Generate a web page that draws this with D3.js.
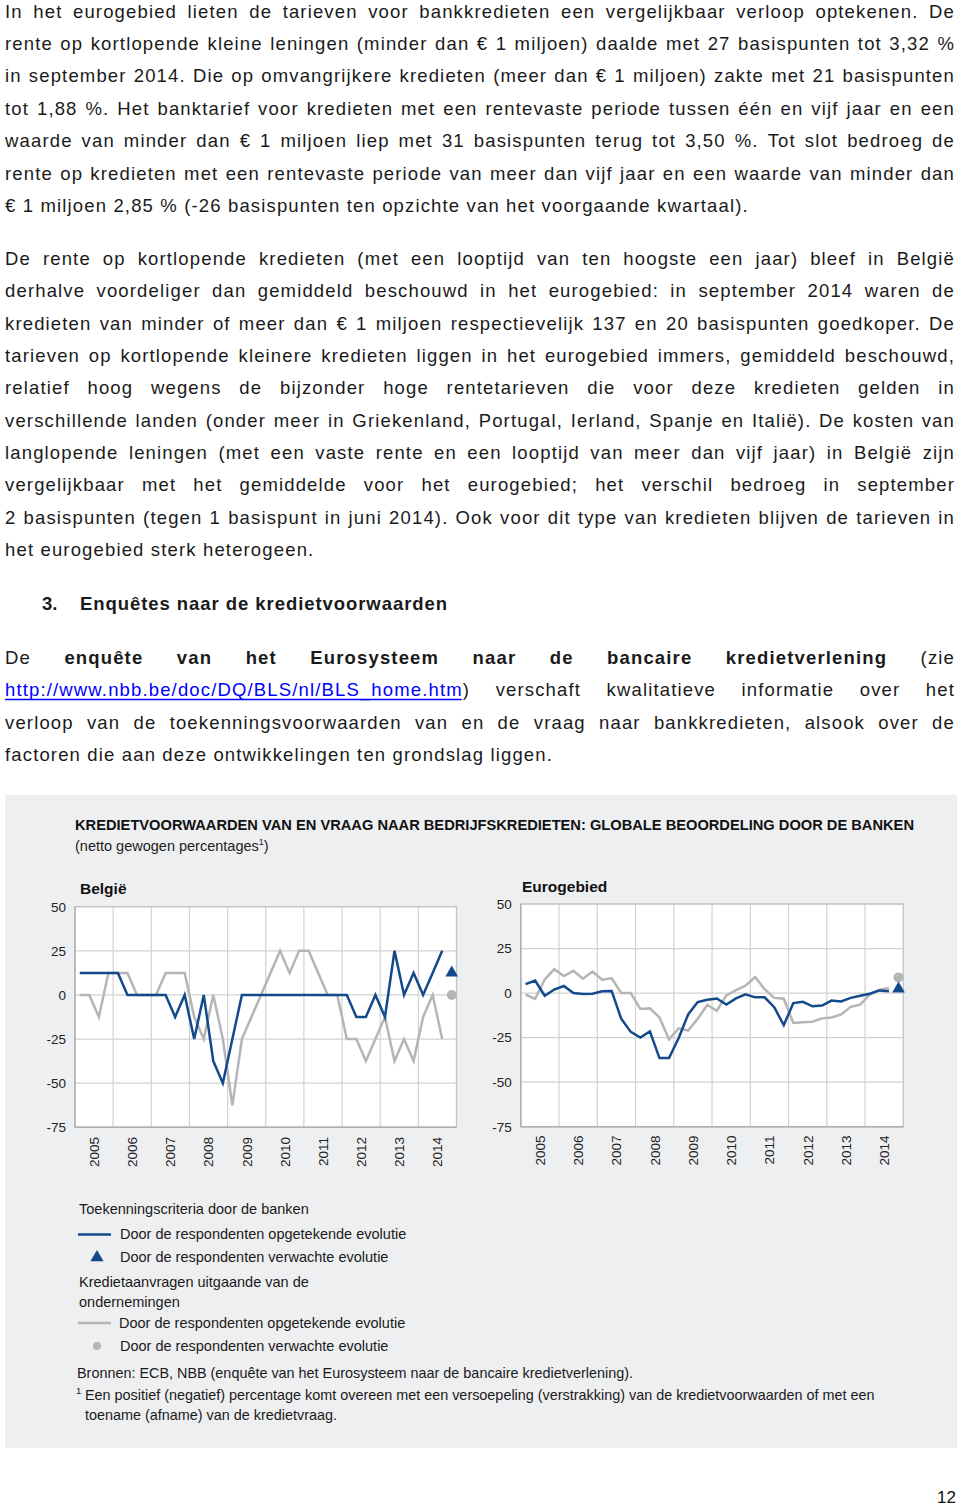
<!DOCTYPE html>
<html><head><meta charset="utf-8">
<script src="https://cdn.jsdelivr.net/npm/d3@7"></script>
<style>body{margin:0;background:#fff}svg{display:block}</style>
</head><body>
<script>
// ---------------- DATA ----------------
const years = ["2005","2006","2007","2008","2009","2010","2011","2012","2013","2014"];
const quarters = [
 "2005Q1","2005Q2","2005Q3","2005Q4","2006Q1","2006Q2","2006Q3","2006Q4",
 "2007Q1","2007Q2","2007Q3","2007Q4","2008Q1","2008Q2","2008Q3","2008Q4",
 "2009Q1","2009Q2","2009Q3","2009Q4","2010Q1","2010Q2","2010Q3","2010Q4",
 "2011Q1","2011Q2","2011Q3","2011Q4","2012Q1","2012Q2","2012Q3","2012Q4",
 "2013Q1","2013Q2","2013Q3","2013Q4","2014Q1","2014Q2","2014Q3"];
const expectedQuarter = "2014Q4";
const yTicks = [50, 25, 0, -25, -50, -75];

// België
const beCriteria = [12.5,12.5,12.5,12.5,12.5,0,0,0,0,0,-12.5,0,-25,0,-37.5,-50,-25,0,0,0,0,0,0,0,0,0,0,0,0,-12.5,-12.5,0,-12.5,25,0,12.5,0,12.5,25];
const beDemand   = [0,0,-12.5,12.5,12.5,12.5,0,0,0,12.5,12.5,12.5,-12.5,-25,0,-25,-62.5,-25,-12.5,0,12.5,25,12.5,25,25,12.5,0,0,-25,-25,-37.5,-25,-12.5,-37.5,-25,-37.5,-12.5,0,-25];
const beCriteriaExpected = 12.5;
const beDemandExpected = 0;

// Eurogebied
const euCriteria = [5,7,-1.5,2,4,0,-0.5,-0.4,1,1.2,-14.4,-21.8,-25,-21.5,-36.5,-36.5,-25.4,-12,-5,-3.7,-3,-6.4,-3,-0.7,-2.4,-2.4,-7.9,-18,-5.6,-4.9,-7.4,-7,-4.2,-4.7,-2.7,-1.5,-0.4,1.5,1];
const euDemand   = [-0.8,-3.2,7.6,13.4,9.6,12.5,8.1,12.1,7.5,8.3,0.1,0,-8.9,-8.6,-13.7,-26,-19.8,-21,-14.4,-6.7,-9.9,-1.3,1.7,4.2,9,2.2,-2.7,-3.2,-16.8,-16.4,-16.1,-14.2,-13.7,-12,-7.7,-6.5,-0.8,1.9,2.7];
const euCriteriaExpected = 2.4;
const euDemandExpected = 8.8;

// ---------------- TEXT ----------------
const para1 = [
 "In het eurogebied lieten de tarieven voor bankkredieten een vergelijkbaar verloop optekenen. De",
 "rente op kortlopende kleine leningen (minder dan € 1 miljoen) daalde met 27 basispunten tot 3,32 %",
 "in september 2014. Die op omvangrijkere kredieten (meer dan € 1 miljoen) zakte met 21 basispunten",
 "tot 1,88 %. Het banktarief voor kredieten met een rentevaste periode tussen één en vijf jaar en een",
 "waarde van minder dan € 1 miljoen liep met 31 basispunten terug tot 3,50 %. Tot slot bedroeg de",
 "rente op kredieten met een rentevaste periode van meer dan vijf jaar en een waarde van minder dan",
 "€ 1 miljoen 2,85 % (-26 basispunten ten opzichte van het voorgaande kwartaal)."];
const para2 = [
 "De rente op kortlopende kredieten (met een looptijd van ten hoogste een jaar) bleef in België",
 "derhalve voordeliger dan gemiddeld beschouwd in het eurogebied: in september 2014 waren de",
 "kredieten van minder of meer dan € 1 miljoen respectievelijk 137 en 20 basispunten goedkoper. De",
 "tarieven op kortlopende kleinere kredieten liggen in het eurogebied immers, gemiddeld beschouwd,",
 "relatief hoog wegens de bijzonder hoge rentetarieven die voor deze kredieten gelden in",
 "verschillende landen (onder meer in Griekenland, Portugal, Ierland, Spanje en Italië). De kosten van",
 "langlopende leningen (met een vaste rente en een looptijd van meer dan vijf jaar) in België zijn",
 "vergelijkbaar met het gemiddelde voor het eurogebied; het verschil bedroeg in september",
 "2 basispunten (tegen 1 basispunt in juni 2014). Ook voor dit type van kredieten blijven de tarieven in",
 "het eurogebied sterk heterogeen."];
const para3 = [
 "De *enquête* *van* *het* *Eurosysteem* *naar* *de* *bancaire* *kredietverlening* (zie",
 "[http://www.nbb.be/doc/DQ/BLS/nl/BLS_home.htm]) verschaft kwalitatieve informatie over het",
 "verloop van de toekenningsvoorwaarden van en de vraag naar bankkredieten, alsook over de",
 "factoren die aan deze ontwikkelingen ten grondslag liggen."];
const headingNum = "3.";
const headingText = "Enquêtes naar de kredietvoorwaarden";
const chartTitle = "KREDIETVOORWAARDEN VAN EN VRAAG NAAR BEDRIJFSKREDIETEN: GLOBALE BEOORDELING DOOR DE BANKEN";
const chartSubtitle = ["(netto gewogen percentages", "1", ")"];
const legendGroup1 = "Toekenningscriteria door de banken";
const legendGroup2 = ["Kredietaanvragen uitgaande van de", "ondernemingen"];
const legendObserved = "Door de respondenten opgetekende evolutie";
const legendExpected = "Door de respondenten verwachte evolutie";
const sourceText = "Bronnen: ECB, NBB (enquête van het Eurosysteem naar de bancaire kredietverlening).";
const footnote = ["Een positief (negatief) percentage komt overeen met een versoepeling (verstrakking) van de kredietvoorwaarden of met een",
                  "toename (afname) van de kredietvraag."];
const pageNumber = "12";

// ---------------- DRAW ----------------
const W = 960, H = 1508;
const FONT = "'Liberation Sans', Arial, Helvetica, sans-serif";
const BLUE = "#124a8b", GREY = "#b5b5b5", INK = "#1a1a1a";

const svg = d3.select("body").append("svg").attr("width", W).attr("height", H)
  .attr("font-family", FONT);
svg.append("rect").attr("width", W).attr("height", H).attr("fill", "#fff");

function parsePieces(str) {
  const out = [];
  const re = /(\*[^*]+\*|\[[^\]]+\]|[^*\[]+)/g;
  let m;
  while ((m = re.exec(str)) !== null) {
    const s = m[0];
    if (s[0] === "*") out.push({text: s.slice(1, -1), bold: true});
    else if (s[0] === "[") out.push({text: s.slice(1, -1), link: true});
    else out.push({text: s});
  }
  return out;
}

const BODY = {size: 18.5, ls: 1.15};
function drawParagraph(lines, x0, y0, pitch, width) {
  lines.forEach((str, i) => {
    const y = y0 + i * pitch;
    const justify = i < lines.length - 1;
    const g = svg.append("g");
    const tokens = justify ? str.split(" ") : [str];
    const items = tokens.map(tok => {
      const t = g.append("text").attr("y", y).attr("font-size", BODY.size)
        .style("letter-spacing", BODY.ls + "px").attr("fill", INK);
      const pieces = parsePieces(tok).map(p => {
        const ts = t.append("tspan").text(p.text);
        if (p.bold) ts.attr("font-weight", "bold");
        if (p.link) ts.attr("fill", "#0000ff");
        return {p, ts};
      });
      return {t, pieces, w: t.node().getComputedTextLength()};
    });
    const total = d3.sum(items, d => d.w);
    const gap = items.length > 1 ? (width - total) / (items.length - 1) : 0;
    let x = x0;
    items.forEach(it => {
      it.t.attr("x", x);
      let off = 0;
      it.pieces.forEach(({p, ts}) => {
        const pw = ts.node().getComputedTextLength();
        if (p.link) {
          g.append("line").attr("x1", x + off).attr("x2", x + off + pw - BODY.ls)
            .attr("y1", y + 3.2).attr("y2", y + 3.2)
            .attr("stroke", "#0000ff").attr("stroke-width", 1.3);
        }
        off += pw;
      });
      x += it.w + gap;
    });
  });
}

drawParagraph(para1, 5, 17.5, 32.4, 950);
drawParagraph(para2, 5, 265, 32.35, 950);

svg.append("text").attr("x", 42).attr("y", 610).attr("font-size", 18.5).attr("font-weight", "bold")
  .attr("fill", INK).text(headingNum);
const hd = svg.append("text").attr("x", 80).attr("y", 610).attr("font-size", 18.5).attr("font-weight", "bold")
  .attr("fill", INK).text(headingText);
const hdw = hd.node().getComputedTextLength();
hd.style("letter-spacing", ((368 - hdw) / headingText.length) + "px");

drawParagraph(para3, 5, 664, 32.3, 950);

// grey box
svg.append("rect").attr("x", 5).attr("y", 795).attr("width", 952).attr("height", 653).attr("fill", "#eeeff1");

// chart title
const ct = svg.append("text").attr("x", 75).attr("y", 830).attr("font-size", 13).attr("font-weight", "bold")
  .attr("fill", "#111").text(chartTitle);
const ctw = ct.node().getComputedTextLength();
ct.attr("font-size", 13 * 840 / ctw);
const st = svg.append("text").attr("x", 75).attr("y", 851).attr("font-size", 14.5).attr("fill", "#222");
st.append("tspan").text(chartSubtitle[0]);
st.append("tspan").attr("font-size", 9).attr("dy", -6).text(chartSubtitle[1]);
st.append("tspan").attr("dy", 6).text(chartSubtitle[2]);

function panel(cfg) {
  const g = svg.append("g");
  const x = d3.scaleBand().domain(years).range([cfg.left, cfg.right]).paddingInner(0).paddingOuter(0);
  const qx = q => x(q.slice(0, 4)) + (+q[5] - 0.5) * x.bandwidth() / 4;
  const y = d3.scaleLinear().domain([-75, 50]).range([cfg.bottom, cfg.top]);

  g.append("rect").attr("x", cfg.left).attr("y", cfg.top)
    .attr("width", cfg.right - cfg.left).attr("height", cfg.bottom - cfg.top).attr("fill", "#fff");
  g.selectAll(".hg").data(yTicks).join("line")
    .attr("x1", cfg.left).attr("x2", cfg.right)
    .attr("y1", d => y(d)).attr("y2", d => y(d))
    .attr("stroke", "#d2d2d2").attr("stroke-width", 1.2);
  g.selectAll(".vg").data(years.slice(1)).join("line")
    .attr("x1", d => x(d)).attr("x2", d => x(d))
    .attr("y1", cfg.top).attr("y2", cfg.bottom)
    .attr("stroke", "#d2d2d2").attr("stroke-width", 1.2);
  g.append("rect").attr("x", cfg.left).attr("y", cfg.top)
    .attr("width", cfg.right - cfg.left).attr("height", cfg.bottom - cfg.top)
    .attr("fill", "none").attr("stroke", "#c4c4c4").attr("stroke-width", 1.3);
  g.append("line").attr("x1", cfg.left).attr("x2", cfg.left).attr("y1", cfg.top).attr("y2", cfg.bottom)
    .attr("stroke", "#b0b0b0").attr("stroke-width", 1.5);
  g.append("line").attr("x1", cfg.left).attr("x2", cfg.right).attr("y1", cfg.bottom).attr("y2", cfg.bottom)
    .attr("stroke", "#b0b0b0").attr("stroke-width", 1.5);

  const ax = g.append("g").attr("transform", `translate(${cfg.left},0)`)
    .call(d3.axisLeft(y).tickValues(yTicks).tickSize(0).tickPadding(9).tickFormat(d => String(d)));
  ax.select(".domain").remove();
  ax.selectAll("text").attr("font-family", FONT).attr("font-size", 13.5).attr("fill", "#222");

  g.selectAll(".yr").data(years).join("text")
    .attr("transform", d => `translate(${x(d) + x.bandwidth() / 2},${cfg.yearTop}) rotate(-90)`)
    .attr("text-anchor", "end").attr("dy", "0.36em")
    .attr("font-size", 13.5).attr("fill", "#222").text(d => d);

  g.append("text").attr("x", cfg.titleX).attr("y", cfg.titleY).attr("font-size", 15.5)
    .attr("font-weight", "bold").attr("fill", "#111").text(cfg.title);

  const line = d3.line().x((d, i) => qx(quarters[i])).y(d => y(d));
  g.append("path").datum(cfg.demand).attr("d", line).attr("fill", "none")
    .attr("stroke", GREY).attr("stroke-width", 2.5).attr("stroke-linejoin", "miter");
  g.append("path").datum(cfg.criteria).attr("d", line).attr("fill", "none")
    .attr("stroke", BLUE).attr("stroke-width", 2.5).attr("stroke-linejoin", "miter");
  g.append("circle").attr("cx", qx(expectedQuarter)).attr("cy", y(cfg.demandExp)).attr("r", 5)
    .attr("fill", GREY);
  g.append("path").attr("d", d3.symbol(d3.symbolTriangle, 70)())
    .attr("transform", `translate(${qx(expectedQuarter)},${y(cfg.criteriaExp)})`)
    .attr("fill", BLUE);
}

panel({left: 75, right: 456.5, top: 906.7, bottom: 1127.3, yearTop: 1137, title: "België",
  titleX: 80, titleY: 894, criteria: beCriteria, demand: beDemand,
  criteriaExp: beCriteriaExpected, demandExp: beDemandExpected});
panel({left: 520.8, right: 903.3, top: 904, bottom: 1126.7, yearTop: 1135.5, title: "Eurogebied",
  titleX: 522, titleY: 892, criteria: euCriteria, demand: euDemand,
  criteriaExp: euCriteriaExpected, demandExp: euDemandExpected});

// legend
const lg = svg.append("g").attr("font-size", 14.5).attr("fill", "#1a1a1a");
lg.append("text").attr("x", 79).attr("y", 1214).text(legendGroup1);
lg.append("line").attr("x1", 78).attr("x2", 111).attr("y1", 1234.5).attr("y2", 1234.5)
  .attr("stroke", BLUE).attr("stroke-width", 2.5);
lg.append("text").attr("x", 120).attr("y", 1239).text(legendObserved);
lg.append("path").attr("d", d3.symbol(d3.symbolTriangle, 75)())
  .attr("transform", "translate(97,1257.5)").attr("fill", BLUE);
lg.append("text").attr("x", 120).attr("y", 1262).text(legendExpected);
lg.append("text").attr("x", 79).attr("y", 1287).text(legendGroup2[0]);
lg.append("text").attr("x", 79).attr("y", 1307).text(legendGroup2[1]);
lg.append("line").attr("x1", 78).attr("x2", 111).attr("y1", 1323).attr("y2", 1323)
  .attr("stroke", GREY).attr("stroke-width", 2.5);
lg.append("text").attr("x", 119).attr("y", 1328).text(legendObserved);
lg.append("circle").attr("cx", 97).attr("cy", 1346).attr("r", 4).attr("fill", GREY);
lg.append("text").attr("x", 120).attr("y", 1351).text(legendExpected);

const fg = svg.append("g").attr("font-size", 14.4).attr("fill", "#1a1a1a");
fg.append("text").attr("x", 77).attr("y", 1378).text(sourceText);
fg.append("text").attr("x", 76).attr("y", 1394).attr("font-size", 9.5).text("1");
fg.append("text").attr("x", 85).attr("y", 1400).text(footnote[0]);
fg.append("text").attr("x", 85).attr("y", 1420).text(footnote[1]);

svg.append("text").attr("x", 956).attr("y", 1503).attr("text-anchor", "end")
  .attr("font-size", 17).attr("fill", "#111").text(pageNumber);
</script>
</body></html>
